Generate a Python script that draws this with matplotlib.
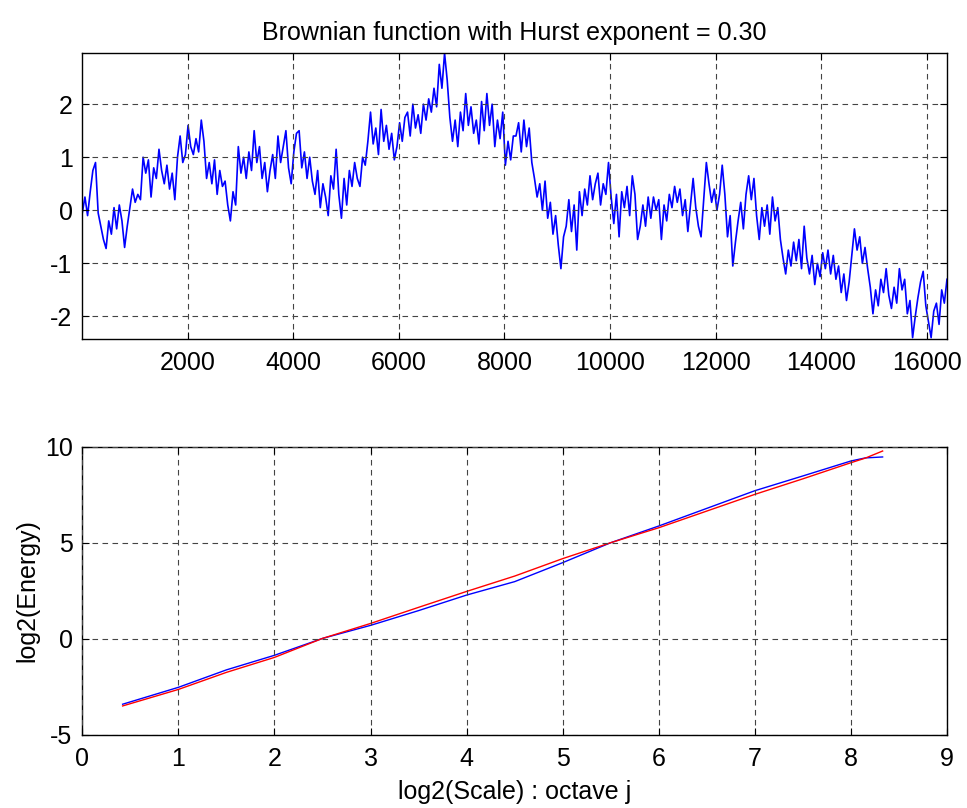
import numpy as np
import matplotlib
matplotlib.use("Agg")
import matplotlib.pyplot as plt

plt.rcParams['font.family'] = ['Liberation Sans', 'DejaVu Sans']
plt.rcParams['axes.unicode_minus'] = False

# ---- top panel: Brownian function (values read every ~50 samples) ----
seg1 = [-0.05, 0.25, -0.1, 0.35, 0.75, 0.9, -0.05, -0.3, -0.55, -0.72,
        -0.2, -0.45, 0.05, -0.35, 0.1, -0.2, -0.7, -0.3, 0.05, 0.4,
        0.15, 0.3, 0.2, 1.0, 0.7, 0.95, 0.25, 0.8, 0.6, 1.15,
        0.75, 0.5, 0.85, 0.4, 0.7, 0.2, 1.0, 1.4, 0.9, 1.05,
        1.6, 1.2, 1.05, 1.35, 1.1, 1.7, 1.3, 0.6, 0.9, 0.5,
        0.95, 0.3, 0.75, 0.45, 0.55, 0.1, -0.2, 0.35, 0.1, 1.2,
        0.7, 1.0, 0.6, 1.1, 0.75, 1.5, 0.9, 1.2, 0.6, 0.9,
        0.35, 0.75, 1.05, 0.6, 1.4, 0.9, 1.2, 1.5, 0.8, 0.5,
        1.1, 1.45]
seg2 = [1.5, 0.8, 1.1, 0.6, 1.0, 0.55, 0.3, 0.75, 0.05, 0.5,
        0.25, -0.1, 0.65, 0.4, 1.15, 0.3, -0.15, 0.6, 0.1, 0.75,
        0.45, 0.9, 0.6, 0.45, 1.0, 0.85, 1.3, 1.85, 1.25, 1.55,
        1.05, 1.9, 1.3, 1.6, 1.15, 1.45, 0.95, 1.2, 1.65, 1.3,
        1.75, 1.85, 1.4, 2.0, 1.55, 1.8, 1.45, 2.0, 1.7, 2.1,
        1.85, 2.3, 1.95, 2.75, 2.3, 2.96, 2.45, 1.75, 1.3, 1.7,
        1.2, 1.85, 1.5, 2.2, 1.6, 1.95, 1.45, 1.7, 1.25, 2.05,
        1.5, 2.2, 1.6, 2.0, 1.2, 1.7, 1.35, 1.85, 0.85, 1.3,
        0.95, 1.4]
seg3 = [1.4, 1.65, 1.1, 1.7, 1.2, 1.55, 0.9, 0.6, 0.25, 0.5,
        0.0, 0.55, -0.15, 0.15, -0.45, -0.1, -0.65, -1.1, -0.5, -0.3,
        0.2, -0.4, 0.1, -0.75, 0.35, -0.1, 0.4, 0.1, 0.65, 0.2,
        0.5, 0.7, 0.1, 0.5, 0.3, 0.9, 0.25, -0.25, 0.3, -0.5,
        0.35, 0.05, 0.45, -0.1, 0.65, 0.3, -0.55, -0.3, 0.1, -0.3,
        0.25, -0.15, 0.25, 0.0, 0.2, -0.55, 0.1, -0.2, 0.3, 0.05,
        0.45, 0.15, 0.4, -0.1, 0.2, -0.4, 0.1, 0.6, 0.05, -0.3,
        -0.5, 0.2, 0.9, 0.5, 0.15, 0.4, 0.0, 0.3, 0.85, 0.3,
        -0.5, -0.1]
seg4 = [-1.05, -0.6, -0.2, 0.15, -0.35, 0.3, 0.65, 0.2, 0.6, -0.1,
        -0.55, 0.05, -0.3, 0.1, -0.45, 0.25, -0.2, 0.05, -0.55, -0.9,
        -1.2, -0.75, -1.05, -0.6, -0.95, -0.55, -1.1, -0.3, -0.9, -1.2,
        -0.85, -1.4, -1.0, -1.25, -0.8, -1.1, -0.75, -1.2, -0.85, -1.3,
        -1.05, -1.55, -1.2, -1.7, -1.35, -0.85, -0.35, -0.75, -0.5, -1.0,
        -0.7, -1.1, -1.45, -1.95, -1.5, -1.8, -1.3, -1.55, -1.1, -1.6,
        -1.85, -1.45, -1.75, -1.1, -1.5, -1.3, -1.95, -1.7, -2.4, -2.0,
        -1.65, -1.35, -1.15, -1.8, -2.1, -2.4, -1.9, -1.75, -2.15, -1.5,
        -1.75, -1.3]
signal = np.array(seg1 + seg2 + seg3 + seg4)
n_samples = 16384
top_xticks = [2000, 4000, 6000, 8000, 10000, 12000, 14000, 16000]
top_yticks = [-2, -1, 0, 1, 2]

# ---- bottom panel: log2 energy vs octave ----
octave = [0.42, 1.0, 1.5, 2.0, 2.5, 3.0, 3.5, 4.0, 4.5, 5.0, 5.5, 6.0,
          6.5, 7.0, 7.5, 8.0, 8.15, 8.33]
energy_blue = [-3.41, -2.53, -1.62, -0.86, 0.02, 0.70, 1.47, 2.28, 2.98,
               3.97, 5.01, 5.88, 6.80, 7.72, 8.49, 9.27, 9.43, 9.48]
energy_red = [-3.50, -2.64, -1.75, -0.97, 0.02, 0.80, 1.64, 2.47, 3.27,
              4.18, 5.01, 5.79, 6.66, 7.53, 8.34, 9.18, 9.42, 9.79]
bot_xticks = list(range(0, 10))
bot_yticks = [-5, 0, 5, 10]

title = "Brownian function with Hurst exponent = 0.30"

fig = plt.figure(figsize=(9.67, 8.08), dpi=100)
ax1 = fig.add_axes([0.0851, 0.5808, 0.8942, 0.354])
ax2 = fig.add_axes([0.0851, 0.0907, 0.8942, 0.3561])

grid_kw = dict(color='#444444', linestyle=(0, (5, 4)), linewidth=0.8)
FS = 18

def style(ax):
    ax.tick_params(direction='in', length=5, width=0.8, top=True, right=True,
                   labelsize=FS, colors='black')
    ax.tick_params(axis='x', pad=9)
    ax.tick_params(axis='y', pad=7)
    for s in ax.spines.values():
        s.set_linewidth(1.0)
    ax.grid(True, **grid_kw)
    ax.set_axisbelow(False)

x = np.linspace(1, n_samples, len(signal))
ax1.plot(x, signal, color='#0000ff', linewidth=1.2)
ax1.set_xlim(1, n_samples)
ax1.set_ylim(signal.min() - 0.02, signal.max() + 0.01)
ax1.set_xticks(top_xticks)
ax1.set_yticks(top_yticks)
ax1.set_title(title, fontsize=FS, pad=9)
style(ax1)

ax2.plot(octave, energy_blue, color='#0000ff', linewidth=1.0)
ax2.plot(octave, energy_red, color='#ff0000', linewidth=1.0)
ax2.set_xlim(0, 9)
ax2.set_ylim(-5, 10)
ax2.set_xticks(bot_xticks)
ax2.set_yticks(bot_yticks)
ax2.set_xlabel("log2(Scale) : octave j", fontsize=FS, labelpad=6)
ax2.set_ylabel("log2(Energy)", fontsize=FS, labelpad=4)
style(ax2)

fig.savefig("out.png", dpi=100)
